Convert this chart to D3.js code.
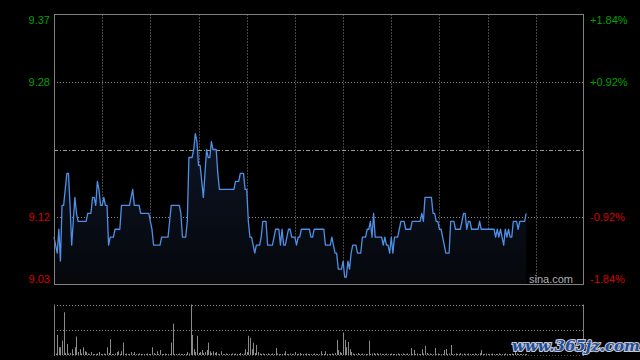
<!DOCTYPE html>
<html><head><meta charset="utf-8">
<script src="https://cdnjs.cloudflare.com/ajax/libs/d3/7.8.5/d3.min.js"></script>
<style>html,body{margin:0;padding:0;background:#000;}svg{display:block;}</style>
</head><body>
<svg id="chart" width="640" height="360"></svg>
<script>
// ---- data ----
const preClose = 9.20;
const totalMinutes = 330;
const pctTicks = [1.84, 0.92, -0.92, -1.84];
const priceLabels = ["9.37", "9.28", "9.12", "9.03"];
const pctLabels = ["+1.84%", "+0.92%", "-0.92%", "-1.84%"];
const gridMinutes = [30, 60, 90, 120, 150, 180, 210, 240, 270, 300];
const prices = [
9.09,9.08,9.07,9.10,9.06,9.13,9.13,9.15,9.17,9.17,
9.13,9.08,9.11,9.14,9.12,9.11,9.11,9.11,9.11,9.11,
9.11,9.12,9.12,9.12,9.14,9.14,9.13,9.16,9.15,9.13,
9.13,9.14,9.13,9.13,9.08,9.09,9.09,9.09,9.10,9.10,
9.10,9.10,9.13,9.13,9.13,9.13,9.13,9.13,9.14,9.15,
9.13,9.13,9.13,9.13,9.12,9.12,9.12,9.12,9.12,9.12,
9.11,9.10,9.08,9.08,9.08,9.08,9.08,9.09,9.09,9.09,
9.09,9.09,9.11,9.13,9.13,9.13,9.13,9.13,9.13,9.12,
9.09,9.09,9.09,9.11,9.19,9.19,9.19,9.20,9.22,9.21,
9.18,9.18,9.16,9.14,9.17,9.20,9.19,9.19,9.21,9.20,
9.20,9.20,9.17,9.15,9.15,9.15,9.15,9.15,9.15,9.15,
9.15,9.15,9.15,9.16,9.16,9.16,9.17,9.17,9.17,9.15,
9.15,9.11,9.09,9.09,9.08,9.07,9.08,9.08,9.08,9.09,
9.11,9.11,9.11,9.08,9.08,9.08,9.08,9.09,9.10,9.10,
9.10,9.08,9.10,9.08,9.08,9.09,9.10,9.10,9.09,9.09,
9.09,9.08,9.09,9.09,9.10,9.10,9.10,9.10,9.10,9.10,
9.09,9.09,9.10,9.10,9.10,9.10,9.10,9.10,9.10,9.08,
9.08,9.08,9.08,9.09,9.08,9.07,9.07,9.05,9.05,9.05,
9.06,9.04,9.04,9.06,9.05,9.07,9.08,9.08,9.08,9.07,
9.07,9.07,9.09,9.09,9.09,9.10,9.10,9.11,9.09,9.12,
9.09,9.09,9.09,9.09,9.09,9.08,9.09,9.08,9.08,9.07,
9.09,9.07,9.09,9.09,9.09,9.10,9.11,9.11,9.11,9.10,
9.10,9.10,9.10,9.11,9.11,9.11,9.11,9.11,9.11,9.12,
9.11,9.14,9.14,9.14,9.14,9.14,9.12,9.12,9.11,9.11,
9.10,9.10,9.09,9.08,9.07,9.07,9.07,9.11,9.11,9.11,
9.10,9.10,9.10,9.10,9.11,9.12,9.12,9.10,9.11,9.11,
9.10,9.10,9.10,9.10,9.10,9.11,9.10,9.10,9.10,9.10,
9.10,9.10,9.10,9.10,9.10,9.09,9.10,9.09,9.10,9.09,
9.08,9.10,9.09,9.10,9.09,9.09,9.11,9.11,9.11,9.10,
9.11,9.11,9.11,9.11,9.12
];
const volumes = [
90,15,200,77,77,143,423,20,110,15,
20,57,10,77,183,30,57,15,77,37,
30,15,10,30,10,10,10,15,30,10,
10,15,10,77,20,157,10,10,15,30,
37,10,37,123,10,15,10,10,30,10,
30,10,10,15,10,10,10,10,15,10,
10,77,20,10,37,10,50,10,10,15,
10,10,10,123,310,10,10,10,15,10,
10,10,10,30,15,500,200,57,30,190,
20,30,50,20,30,50,123,37,20,37,
20,30,10,10,37,10,10,15,10,10,
10,15,10,15,10,10,20,10,15,57,
30,190,170,57,123,20,100,30,15,10,
15,10,10,15,10,10,15,10,70,15,
10,10,10,15,37,10,10,15,10,10,
30,10,10,20,10,10,10,15,10,10,
10,10,15,10,10,10,37,10,10,37,
10,10,10,15,10,20,150,50,30,20,
223,150,77,130,57,30,15,10,10,20,
10,10,15,10,10,10,143,10,15,20,
10,20,10,15,10,10,10,15,10,10,
15,10,10,10,15,10,10,15,10,10,
15,10,70,10,50,10,15,10,10,57,
15,90,20,10,15,10,10,70,10,15,
10,10,10,50,60,10,15,100,10,10,
15,10,10,20,10,15,10,10,15,10,
10,10,15,10,10,20,50,10,10,15,
10,10,10,15,10,10,10,15,10,10,
10,15,10,10,10,15,10,37,15,10,
10,10,10,10,10
];

// ---- layout ----
const svg = d3.select("#chart");
const L = 54, R = 584, T = 14.5, B = 284.5;
const VT = 304.5, VB = 355;
const frameColor = "#808080", gridColor = "#8a8a8a";
const green = "#00a000", red = "#d40000";

svg.append("rect").attr("width", 640).attr("height", 360).attr("fill", "#000");

const x = d3.scaleLinear().domain([0, totalMinutes]).range([L, R]);
const y = d3.scaleLinear()
  .domain([preClose * (1 - pctTicks[0] / 100), preClose * (1 + pctTicks[0] / 100)])
  .range([B, T]);
const yv = d3.scaleLinear().domain([0, d3.max(volumes)]).range([VB, VT]);

// gradient
const defs = svg.append("defs");
const grad = defs.append("linearGradient").attr("id", "ag").attr("gradientUnits", "userSpaceOnUse")
  .attr("x1", 0).attr("y1", 130).attr("x2", 0).attr("y2", B);
grad.append("stop").attr("offset", "0%").attr("stop-color", "#0d1526");
grad.append("stop").attr("offset", "100%").attr("stop-color", "#05070b");

// grid - main
const tickPrices = pctTicks.map(p => preClose * (1 + p / 100));
svg.append("g").selectAll("line").data([tickPrices[1], tickPrices[2]]).join("line")
  .attr("x1", L).attr("x2", R).attr("y1", d => Math.round(y(d)) + 0.5).attr("y2", d => Math.round(y(d)) + 0.5)
  .attr("stroke", gridColor).attr("stroke-dasharray", "1,2");
svg.append("g").selectAll("line").data(gridMinutes).join("line")
  .attr("x1", d => Math.round(x(d)) + 0.5).attr("x2", d => Math.round(x(d)) + 0.5)
  .attr("y1", T).attr("y2", B)
  .attr("stroke", gridColor).attr("stroke-dasharray", "1,2");
// pre-close line
svg.append("line").attr("x1", L).attr("x2", R)
  .attr("y1", Math.round(y(preClose)) + 0.5).attr("y2", Math.round(y(preClose)) + 0.5)
  .attr("stroke", "#9a9a9a").attr("stroke-dasharray", "4,2,1,2");

// area + line
const area = d3.area().x((d, i) => x(i)).y0(B).y1(d => y(d));
svg.append("path").datum(prices).attr("d", area).attr("fill", "url(#ag)");
const line = d3.line().x((d, i) => x(i)).y(d => y(d));
svg.append("path").datum(prices).attr("d", line).attr("fill", "none")
  .attr("stroke", "#4f8fe6").attr("stroke-width", 1.3).attr("stroke-linejoin", "round");

// frame
svg.append("rect").attr("x", L + 0.5).attr("y", T).attr("width", R - L - 1).attr("height", B - T)
  .attr("fill", "none").attr("stroke", frameColor);

// axes labels
const font = "'Liberation Sans', Arial, sans-serif";
const axL = d3.axisLeft(y).tickValues(tickPrices).tickFormat((d, i) => priceLabels[i]).tickSize(0).tickPadding(4);
const gL = svg.append("g").attr("transform", `translate(${L},0)`).call(axL);
const axR = d3.axisRight(y).tickValues(tickPrices).tickFormat((d, i) => pctLabels[i]).tickSize(0).tickPadding(6);
const gR = svg.append("g").attr("transform", `translate(${R},0)`).call(axR);
[gL, gR].forEach(g => {
  g.select(".domain").remove();
  g.selectAll("text")
    .attr("font-family", font).attr("font-size", 11)
    .attr("fill", (d, i) => i < 2 ? green : red)
    .attr("dy", (d, i) => i === 0 ? "0.85em" : (i === 3 ? "-0.2em" : "0.32em"));
});

// sina.com
svg.append("text").attr("x", 573).attr("y", 283).attr("text-anchor", "end")
  .attr("font-family", font).attr("font-size", 11).attr("fill", "#b0b0b0").text("sina.com");

// volume panel grid
svg.append("g").selectAll("line").data([VT, (VT + VB) / 2]).join("line")
  .attr("x1", L).attr("x2", R).attr("y1", d => Math.round(d) + 0.5).attr("y2", d => Math.round(d) + 0.5)
  .attr("stroke", gridColor).attr("stroke-dasharray", "1,2");
svg.append("line").attr("x1", L).attr("x2", R).attr("y1", VB + 0.5).attr("y2", VB + 0.5)
  .attr("stroke", "#555").attr("stroke-dasharray", "1,2");
// volume bars
svg.append("g").selectAll("rect").data(volumes).join("rect")
  .attr("x", (d, i) => Math.round(x(i)))
  .attr("width", 1)
  .attr("y", d => yv(d))
  .attr("height", d => VB - yv(d))
  .attr("fill", "#8a8a8a");
svg.append("line").attr("x1", L + 0.5).attr("x2", L + 0.5).attr("y1", VT).attr("y2", VB + 1).attr("stroke", frameColor);
svg.append("line").attr("x1", R - 0.5).attr("x2", R - 0.5).attr("y1", VT).attr("y2", VB + 1).attr("stroke", frameColor);

// watermark
svg.append("text").attr("x", 576).attr("y", 351).attr("text-anchor", "middle")
  .attr("font-family", "'DejaVu Serif', serif").attr("font-weight", "bold").attr("font-style", "italic")
  .attr("font-size", 15).attr("fill", "#1d4f9e").attr("stroke", "#c8c8d0").attr("stroke-width", 2.2)
  .attr("paint-order", "stroke").text("www.365jz.com");
</script>
</body></html>
